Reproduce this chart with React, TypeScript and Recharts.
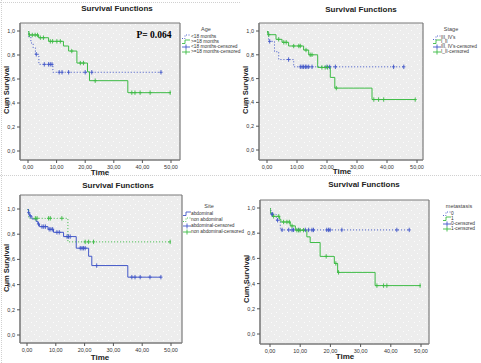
import React from 'react';
import { ComposedChart, Line, Scatter, XAxis, YAxis, CartesianGrid } from 'recharts';

// ---------- shared text / ticks ----------
const xTicks = [0, 10, 20, 30, 40, 50];
const yTicks = [0, 0.2, 0.4, 0.6, 0.8, 1.0];
const panelTitle = 'Survival Functions';
const xAxisTitle = 'Time';
const yAxisTitle = 'Cum Survival';
const pValueText = 'P= 0.064';

// ---------- Panel 1: Age ----------
const ageTitle = 'Age';
const ageLabels = ['<18 months', '>=18 months', '<18 months-censored', '>=18 months-censored'];
const ageATimes = [0, 0.3, 1.0, 1.8, 2.6, 3.8, 8.7, 46.5];
const ageASurv = [1.0, 0.95, 0.9, 0.86, 0.806, 0.722, 0.656, 0.656];
const ageACens = [2.9, 5.7, 7.2, 7.8, 8.4, 10.9, 11.9, 14.2, 20.0, 22.3, 46.5];
const ageBTimes = [0, 0.3, 3.7, 7.2, 12.4, 14.2, 17.1, 20.8, 21.5, 34.9, 49.9];
const ageBSurv = [1.0, 0.967, 0.944, 0.914, 0.875, 0.833, 0.733, 0.66, 0.586, 0.486, 0.486];
const ageBCens = [0.5, 1.5, 2.5, 3.3, 4.3, 5.4, 7.8, 8.6, 10.1, 11.3, 15.3, 18.3, 19.4, 23.5, 36.3, 37.4, 39.2, 42.7, 49.7];

// ---------- Panel 2: Stage ----------
const stageTitle = 'Stage';
const stageLabels = ["III, IV's", 'I_II', "III, IV's-censored", 'I_II-censored'];
const stageATimes = [0, 0.5, 2.5, 3.9, 8.9, 46.0];
const stageASurv = [1.0, 0.913, 0.826, 0.76, 0.699, 0.699];
const stageACens = [0.9, 7.2, 11.1, 11.7, 12.2, 12.8, 13.3, 13.9, 15.0, 20.0, 20.9, 22.8, 42.2, 45.6];
const stageBTimes = [0, 0.3, 3.0, 5.0, 7.2, 12.2, 13.9, 16.9, 21.1, 22.6, 35.0, 49.4];
const stageBSurv = [1.0, 0.969, 0.93, 0.905, 0.874, 0.84, 0.8, 0.694, 0.61, 0.52, 0.424, 0.424];
const stageBCens = [0.1, 0.6, 3.9, 5.6, 6.4, 8.9, 10.6, 11.1, 13.0, 14.4, 15.0, 18.3, 19.4, 20.2, 23.1, 35.6, 37.2, 38.9, 49.4];

// ---------- Panel 3: Site ----------
const siteTitle = 'Site';
const siteLabels = ['abdominal', 'non abdominal', 'abdominal-censored', 'non abdominal-censored'];
const siteATimes = [0, 0.5, 0.7, 0.9, 1.7, 3.2, 3.8, 4.3, 7.3, 9.2, 12.7, 17.1, 21.4, 22.5, 35.0, 46.5];
const siteASurv = [1.0, 0.971, 0.958, 0.945, 0.921, 0.9, 0.881, 0.86, 0.839, 0.815, 0.781, 0.689, 0.625, 0.551, 0.459, 0.459];
const siteACens = [0.6, 1.15, 4.0, 5.2, 5.8, 6.4, 7.7, 8.3, 8.9, 10.4, 11.2, 13.9, 14.4, 15.0, 18.5, 19.1, 19.6, 20.2, 24.2, 36.4, 37.5, 39.3, 42.7, 46.5];
const siteBTimes = [0, 0.6, 14.2, 49.9];
const siteBSurv = [1.0, 0.926, 0.739, 0.739];
const siteBCens = [2.9, 3.5, 7.5, 8.1, 12.1, 20.2, 21.4, 23.1, 49.7];

// ---------- Panel 4: metastasis ----------
const metTitle = 'metastasis';
const metLabels = ['0', '1', '0-censored', '1-censored'];
const metATimes = [0, 0.3, 2.1, 3.4, 46.1];
const metASurv = [1.0, 0.95, 0.903, 0.826, 0.826];
const metACens = [0.66, 0.88, 2.5, 4.0, 6.2, 7.3, 7.8, 9.5, 11.7, 12.8, 13.9, 14.4, 18.8, 19.4, 19.9, 23.8, 42.0, 46.1];
const metBTimes = [0, 0.1, 0.7, 3.2, 3.6, 6.7, 8.4, 12.2, 13.3, 16.6, 21.3, 22.4, 34.8, 49.7];
const metBSurv = [1.0, 0.96, 0.934, 0.91, 0.889, 0.858, 0.824, 0.771, 0.726, 0.616, 0.56, 0.489, 0.384, 0.384];
const metBCens = [1.2, 2.9, 4.5, 5.6, 6.4, 7.3, 8.9, 9.5, 10.0, 11.1, 18.6, 21.8, 22.7, 35.4, 37.6, 38.7, 49.7];

// ---------- styling ----------
const GREEN = '#3dbb45';
const BLUE = '#4257c8';
const FONT = 'Arial, "Liberation Sans", sans-serif';

function stepData(times: number[], surv: number[]) {
  return times.map((t, i) => ({ t, s: surv[i] }));
}
function censorData(times: number[], surv: number[], cens: number[]) {
  return cens.map((c) => {
    let v = surv[0];
    for (let i = 0; i < times.length; i++) if (times[i] <= c) v = surv[i];
    return { t: c, s: v };
  });
}

const makePlus = (color: string) => (props: any) => {
  const { cx, cy } = props;
  if (cx == null || cy == null) return <g />;
  return (
    <g stroke={color} strokeWidth={0.9}>
      <line x1={cx} x2={cx} y1={cy - 2.2} y2={cy + 2.2} />
      <line x1={cx - 1.6} x2={cx + 1.6} y1={cy} y2={cy} />
    </g>
  );
};

type Series = { times: number[]; surv: number[]; cens: number[]; color: string; dotted: boolean };

type Cfg = {
  left: number; top: number; width: number; height: number;
  plot: { left: number; top: number; right: number; bottom: number };
  pad: { l: number; r: number; t: number; b: number };
  titleX: number; titleY: number;
  timeX: number; timeY: number;
  cumX: number; cumY: number;
  legX: number; legY: number; iconX: number; textX: number; rows: number[];
};

function LegendIcon({ color, kind }: { color: string; kind: 'dotted' | 'solid' | 'cens' }) {
  return (
    <svg width={8} height={6} style={{ display: 'block' }}>
      {kind === 'cens' ? (
        <g stroke={color} strokeWidth={0.9}>
          <line x1={0} x2={8} y1={3} y2={3} />
          <line x1={4} x2={4} y1={0.5} y2={5.5} />
        </g>
      ) : (
        <path d="M0,4.5 H3 V1 H8" fill="none" stroke={color} strokeWidth={0.9} strokeDasharray={kind === 'dotted' ? '1 1.5' : undefined} />
      )}
    </svg>
  );
}

function Panel({ cfg, series, legendTitle, labels, extra }: { cfg: Cfg; series: Series[]; legendTitle: string; labels: string[]; extra?: React.ReactNode }) {
  const { width, height, plot, pad } = cfg;
  const icons: { color: string; kind: 'dotted' | 'solid' | 'cens' }[] = [
    { color: series[0].color, kind: series[0].dotted ? 'dotted' : 'solid' },
    { color: series[1].color, kind: series[1].dotted ? 'dotted' : 'solid' },
    { color: series[0].color, kind: 'cens' },
    { color: series[1].color, kind: 'cens' },
  ];
  return (
    <div style={{ position: 'absolute', left: cfg.left, top: cfg.top, width, height, fontFamily: FONT }}>
      <div style={{ position: 'absolute', left: cfg.titleX, top: cfg.titleY, transform: 'translate(-50%,-50%)', fontSize: 8, fontWeight: 'bold', color: '#222', whiteSpace: 'nowrap' }}>{panelTitle}</div>
      <div style={{ position: 'absolute', left: 0, top: 0 }}>
        <ComposedChart width={width} height={height} margin={{ top: plot.top, right: width - plot.right, left: 0, bottom: 0 }}>
          <CartesianGrid
            fill="url(#spssdots)"
            stroke="#7a7a7a"
            strokeWidth={1.2}
            horizontalCoordinatesGenerator={(p: any) => [p.offset.top, p.offset.top + p.offset.height]}
            verticalCoordinatesGenerator={(p: any) => [p.offset.left, p.offset.left + p.offset.width]}
          />
          <XAxis
            dataKey="t"
            type="number"
            domain={[0, 50]}
            ticks={xTicks}
            allowDataOverflow
            padding={{ left: pad.l, right: pad.r }}
            height={height - plot.bottom}
            tick={{ fontSize: 5.5, fill: '#333' }}
            tickSize={3}
            tickLine={{ stroke: '#555' }}
            axisLine={{ stroke: '#7a7a7a' }}
            tickFormatter={(v: number) => v.toFixed(2).replace('.', ',')}
          />
          <YAxis
            dataKey="s"
            type="number"
            domain={[0, 1]}
            ticks={yTicks}
            allowDataOverflow
            padding={{ top: pad.t, bottom: pad.b }}
            width={plot.left}
            tick={{ fontSize: 5.5, fill: '#333' }}
            tickSize={3}
            tickLine={{ stroke: '#555' }}
            axisLine={{ stroke: '#7a7a7a' }}
            tickFormatter={(v: number) => v.toFixed(1).replace('.', ',')}
          />
          {series.map((s, i) => (
            <Line
              key={'l' + i}
              data={stepData(s.times, s.surv)}
              dataKey="s"
              type="stepAfter"
              stroke={s.color}
              strokeWidth={1}
              strokeDasharray={s.dotted ? '1 2' : undefined}
              dot={false}
              activeDot={false}
              isAnimationActive={false}
            />
          ))}
          {series.map((s, i) => (
            <Scatter
              key={'c' + i}
              data={censorData(s.times, s.surv, s.cens)}
              dataKey="s"
              shape={makePlus(s.color)}
              isAnimationActive={false}
            />
          ))}
        </ComposedChart>
      </div>
      <div style={{ position: 'absolute', left: cfg.timeX, top: cfg.timeY, transform: 'translate(-50%,-50%)', fontSize: 8, fontWeight: 'bold', color: '#222' }}>{xAxisTitle}</div>
      <div style={{ position: 'absolute', left: cfg.cumX, top: cfg.cumY, transform: 'translate(-50%,-50%) rotate(-90deg)', fontSize: 7.5, fontWeight: 'bold', color: '#222', whiteSpace: 'nowrap' }}>{yAxisTitle}</div>
      <div style={{ position: 'absolute', left: cfg.legX, top: cfg.legY, transform: 'translate(-50%,-50%)', fontSize: 5.5, color: '#444', whiteSpace: 'nowrap' }}>{legendTitle}</div>
      {labels.map((lab, i) => (
        <React.Fragment key={lab}>
          <div style={{ position: 'absolute', left: cfg.iconX, top: cfg.rows[i] - 3 }}>
            <LegendIcon color={icons[i].color} kind={icons[i].kind} />
          </div>
          <div style={{ position: 'absolute', left: cfg.textX, top: cfg.rows[i], transform: 'translateY(-50%)', fontSize: 4.8, color: '#333', whiteSpace: 'nowrap', lineHeight: 1 }}>{lab}</div>
        </React.Fragment>
      ))}
      {extra}
    </div>
  );
}

const cfg1: Cfg = {
  left: 0, top: 0, width: 240, height: 181,
  plot: { left: 20, top: 23, right: 180, bottom: 160 }, pad: { l: 8, r: 9, t: 8, b: 9 },
  titleX: 117, titleY: 8, timeX: 100, timeY: 172, cumX: 6, cumY: 90,
  legX: 206, legY: 29, iconX: 182, textX: 191, rows: [37, 42, 47, 52],
};
const cfg2: Cfg = {
  left: 240, top: 0, width: 241, height: 181,
  plot: { left: 19, top: 23, right: 183, bottom: 160 }, pad: { l: 8, r: 6, t: 8, b: 10 },
  titleX: 121, titleY: 9, timeX: 102, timeY: 171, cumX: 5, cumY: 90,
  legX: 211, legY: 29, iconX: 193, textX: 201, rows: [37.5, 42, 47, 52],
};
const cfg3: Cfg = {
  left: 0, top: 180, width: 240, height: 183,
  plot: { left: 20, top: 15, right: 182, bottom: 163 }, pad: { l: 7, r: 11, t: 14, b: 8 },
  titleX: 118, titleY: 5, timeX: 100, timeY: 177, cumX: 6, cumY: 88,
  legX: 209, legY: 26, iconX: 183, textX: 191, rows: [34, 40, 45.5, 51.5],
};
const cfg4: Cfg = {
  left: 240, top: 180, width: 241, height: 183,
  plot: { left: 20, top: 20, right: 189, bottom: 164 }, pad: { l: 10, r: 8, t: 8, b: 10 },
  titleX: 124, titleY: 4, timeX: 105, timeY: 176, cumX: 6, cumY: 99,
  legX: 219, legY: 26, iconX: 203, textX: 211, rows: [34, 39, 44.3, 49.3],
};

export default function App() {
  return (
    <div style={{ position: 'absolute', left: 0, top: 0, width: 481, height: 363, background: '#fff', overflow: 'hidden' }}>
      <svg width={0} height={0} style={{ position: 'absolute' }}>
        <defs>
          <pattern id="spssdots" width={11} height={9} patternUnits="userSpaceOnUse">
            <rect width={11} height={9} fill="#ededed" />
            <rect x={1} y={1} width={1} height={1} fill="#fcfcfc" />
            <rect x={6} y={3} width={1} height={1} fill="#fcfcfc" />
            <rect x={3} y={6} width={1} height={1} fill="#fcfcfc" />
            <rect x={9} y={7} width={1} height={1} fill="#fcfcfc" />
          </pattern>
        </defs>
      </svg>
      {/* light page separators */}
      <div style={{ position: 'absolute', left: 0, top: 2, width: 240, borderTop: '1px dotted #d0d0d0' }} />
      <div style={{ position: 'absolute', left: 0, top: 175, width: 481, borderTop: '1px dotted #d0d0d0' }} />
      <div style={{ position: 'absolute', left: 1, top: 0, height: 363, borderLeft: '1px dotted #d0d0d0' }} />
      <Panel
        cfg={cfg1}
        legendTitle={ageTitle}
        labels={ageLabels}
        series={[
          { times: ageATimes, surv: ageASurv, cens: ageACens, color: BLUE, dotted: true },
          { times: ageBTimes, surv: ageBSurv, cens: ageBCens, color: GREEN, dotted: false },
        ]}
        extra={<div style={{ position: 'absolute', left: 154, top: 35, transform: 'translate(-50%,-50%)', fontFamily: '"Liberation Serif", "Times New Roman", serif', fontWeight: 'bold', fontSize: 9.5, color: '#000', whiteSpace: 'nowrap' }}>{pValueText}</div>}
      />
      <Panel
        cfg={cfg2}
        legendTitle={stageTitle}
        labels={stageLabels}
        series={[
          { times: stageATimes, surv: stageASurv, cens: stageACens, color: BLUE, dotted: true },
          { times: stageBTimes, surv: stageBSurv, cens: stageBCens, color: GREEN, dotted: false },
        ]}
      />
      <Panel
        cfg={cfg3}
        legendTitle={siteTitle}
        labels={siteLabels}
        series={[
          { times: siteATimes, surv: siteASurv, cens: siteACens, color: BLUE, dotted: false },
          { times: siteBTimes, surv: siteBSurv, cens: siteBCens, color: GREEN, dotted: true },
        ]}
      />
      <Panel
        cfg={cfg4}
        legendTitle={metTitle}
        labels={metLabels}
        series={[
          { times: metATimes, surv: metASurv, cens: metACens, color: BLUE, dotted: true },
          { times: metBTimes, surv: metBSurv, cens: metBCens, color: GREEN, dotted: false },
        ]}
      />
    </div>
  );
}
